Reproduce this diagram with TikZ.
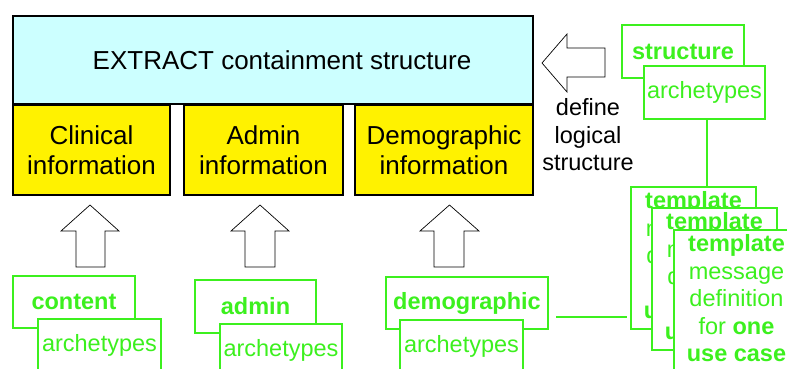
\documentclass[tikz,border=0pt]{standalone}
\usepackage{fontspec}
\setmainfont{Liberation Sans}
\usetikzlibrary{calc}
\definecolor{grn}{RGB}{60,240,30}
\definecolor{cyanfill}{RGB}{204,255,255}
\begin{document}
\begin{tikzpicture}[x=1pt,y=-1pt,
  bbox/.style={draw=black,line width=2pt,inner sep=0pt,align=center,anchor=north west,
    font=\fontsize{26}{30}\selectfont},
  gbox/.style={draw=grn,fill=white,line width=2pt,text=grn,inner sep=0pt,anchor=north west,
    font=\fontsize{23.5}{28}\selectfont},
  tbox/.style={gbox,align=center,minimum width=125pt,minimum height=142pt,
    font=\fontsize{23.5}{27.5}\selectfont},
  fatarrow/.style={draw=black,line width=0.7pt,fill=white},
  glink/.style={draw=grn,line width=2pt},
]
\useasboundingbox (0,0) rectangle (787,369);
\clip (0,0) rectangle (787,369);

% top structure
\node[bbox,fill=cyanfill,minimum width=520pt,minimum height=88pt] (extract) at (12,15) {\hspace*{18pt}EXTRACT containment structure};
\node[bbox,fill=yellow,minimum width=157pt,minimum height=90pt] (clin) at (12,104) {Clinical\\information};
\node[bbox,fill=yellow,minimum width=159pt,minimum height=90pt] (adm) at (183,104) {Admin\\information};
\node[bbox,fill=yellow,minimum width=178pt,minimum height=90pt] (dem) at (354,104) {Demographic\\information};

% block arrows
\draw[fatarrow] (90,205) -- (119,231) -- (105,231) -- (105,267) -- (76,267) -- (76,231) -- (61,231) -- cycle;
\draw[fatarrow] (260,205) -- (289,231) -- (275,231) -- (275,267) -- (245,267) -- (245,231) -- (231,231) -- cycle;
\draw[fatarrow] (449.5,205) -- (479,231) -- (464,231) -- (464,267) -- (434,267) -- (434,231) -- (420,231) -- cycle;
\draw[fatarrow] (542,63) -- (567,34) -- (567,48) -- (605,48) -- (605,77) -- (567,77) -- (567,92) -- cycle;

\node[align=center,font=\fontsize{23.5}{27.5}\selectfont] (deftext) at (588,135) {define\\logical\\structure};

% archetype boxes
\node[gbox,minimum width=122pt,minimum height=52pt] (content) at (12,275) {\textbf{content}};
\node[gbox,minimum width=123pt,minimum height=52pt] (carch) at (37,318) {archetypes};
\node[gbox,minimum width=121pt,minimum height=53pt] (admin) at (194,279) {\textbf{admin}};
\node[gbox,minimum width=122pt,minimum height=52pt] (aarch) at (219,323) {archetypes};
\node[gbox,minimum width=162pt,minimum height=52pt] (demo) at (385,276) {\textbf{demographic}};
\node[gbox,minimum width=123pt,minimum height=52pt] (darch) at (399,319) {archetypes};
\node[gbox,minimum width=122pt,minimum height=53pt] (struct) at (621,24) {\textbf{structure}};
\node[gbox,minimum width=121pt,minimum height=53pt] (sarch) at (643,65) {archetypes};

% template boxes
\node[tbox] (tpl1) at (630,186) {\textbf{template}\\message\\definition\\for \textbf{one}\\\textbf{use case}\\[-22pt]\mbox{}};
\node[tbox] (tpl2) at (651,207) {\textbf{template}\\message\\definition\\for \textbf{one}\\\textbf{use case}\\[-22pt]\mbox{}};
\node[tbox] (tpl3) at (673,229) {\textbf{template}\\message\\definition\\for \textbf{one}\\\textbf{use case}\\[-22pt]\mbox{}};

% links
\coordinate (vx) at (707,0);
\draw[glink] (sarch.south -| vx) -- (tpl1.north -| vx);
\path (demo.east) ++(7,14) coordinate (la);
\draw[glink] (la) -- ($(la -| tpl1.west)+(-3,0)$);
\end{tikzpicture}
\end{document}
